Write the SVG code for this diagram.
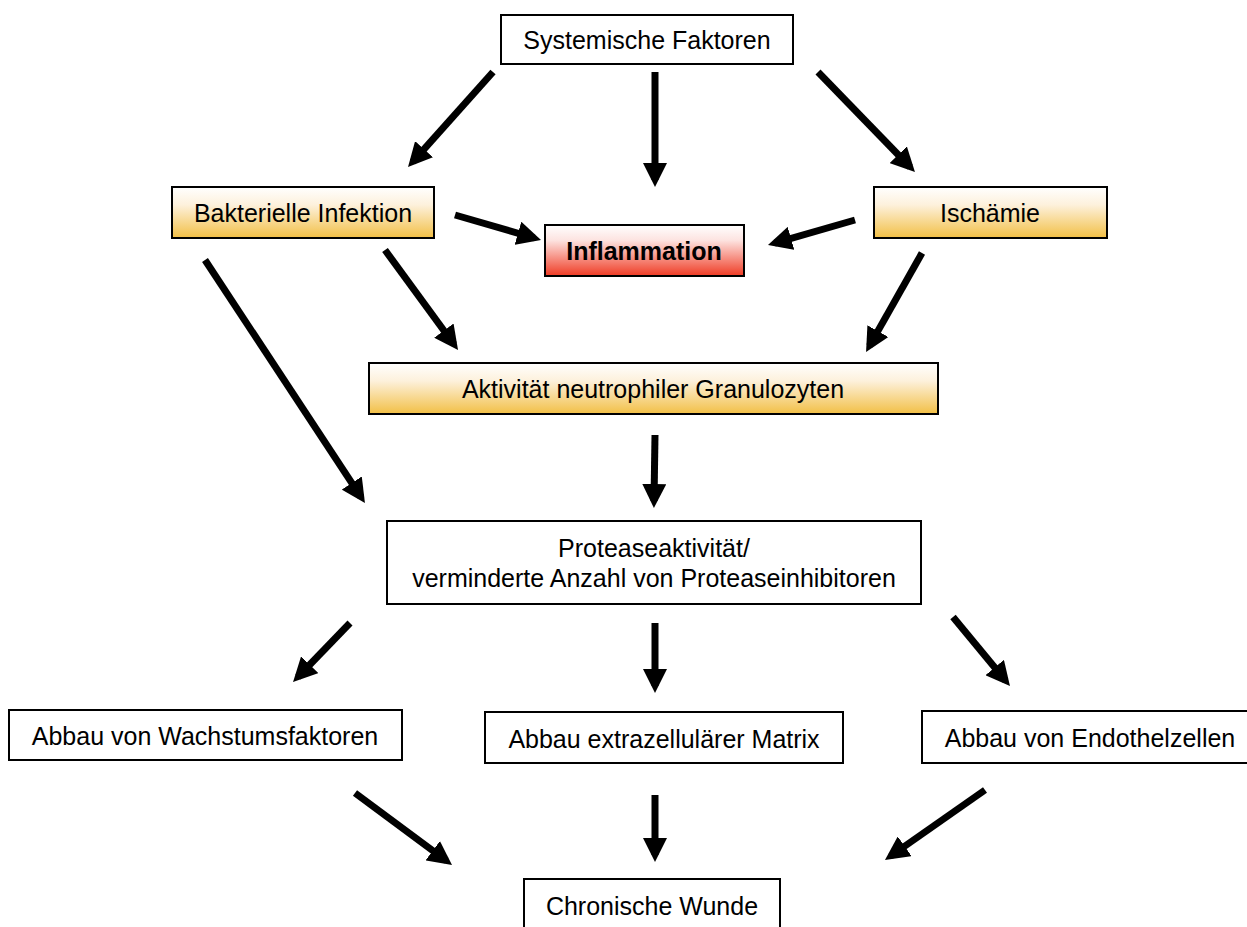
<svg xmlns="http://www.w3.org/2000/svg" width="1247" height="927" viewBox="0 0 1247 927">
<style>
.box{stroke:#000;stroke-width:2}
.w{fill:#fff}
.o{fill:url(#og)}
.r{fill:url(#rg)}
text{font-family:"Liberation Sans",Arial,sans-serif;font-size:25px;fill:#000;text-anchor:middle}
.b{font-weight:bold}
.c line{stroke:#000;stroke-width:7;marker-end:url(#ah)}
</style>
<defs>
<linearGradient id="og" x1="0" y1="0" x2="0" y2="1">
<stop offset="0" stop-color="#ffffff"/><stop offset="0.35" stop-color="#fdf1dc"/><stop offset="1" stop-color="#f2bf45"/>
</linearGradient>
<linearGradient id="rg" x1="0" y1="0" x2="0" y2="1">
<stop offset="0" stop-color="#ffffff"/><stop offset="0.3" stop-color="#fde3e0"/><stop offset="1" stop-color="#ef3b24"/>
</linearGradient>
<marker id="ah" markerUnits="userSpaceOnUse" markerWidth="24" markerHeight="24" refX="17" refY="12" orient="auto">
<path d="M0,0 L24,12 L0,24 z" fill="#000"/>
</marker>
</defs>
<rect width="1247" height="927" fill="#fff"/>
<g class="c" id="connectors">
<line x1="493" y1="72" x2="412.7" y2="161.8"/>
<line x1="655" y1="72" x2="655" y2="180"/>
<line x1="818" y1="72" x2="910.1" y2="167"/>
<line x1="455" y1="215" x2="534.3" y2="238"/>
<line x1="855" y1="220" x2="774.7" y2="243.1"/>
<line x1="205" y1="260" x2="361.1" y2="497.2"/>
<line x1="385" y1="250" x2="453.9" y2="344.3"/>
<line x1="922" y1="253" x2="869.5" y2="345.9"/>
<line x1="655" y1="435" x2="654" y2="501"/>
<line x1="350" y1="623" x2="297.9" y2="677"/>
<line x1="655" y1="623" x2="655" y2="686"/>
<line x1="953" y1="617" x2="1005.5" y2="680.6"/>
<line x1="355" y1="793" x2="446.4" y2="860.8"/>
<line x1="655" y1="795" x2="655" y2="855"/>
<line x1="985" y1="790" x2="890.7" y2="856"/>
</g>
<g id="n-systemisch"><rect class="box w" x="501" y="15" width="292" height="49"/><text x="647" y="49">Systemische Faktoren</text></g>
<g id="n-bakterien"><rect class="box o" x="172" y="187" width="262" height="51"/><text x="303" y="222">Bakterielle Infektion</text></g>
<g id="n-inflammation"><rect class="box r" x="545" y="225" width="199" height="51"/><text class="b" x="644" y="260">Inflammation</text></g>
<g id="n-ischaemie"><rect class="box o" x="874" y="187" width="233" height="51"/><text x="990" y="222">Ischämie</text></g>
<g id="n-aktivitaet"><rect class="box o" x="369" y="363" width="569" height="51"/><text x="653" y="398">Aktivität neutrophiler Granulozyten</text></g>
<g id="n-protease"><rect class="box w" x="387" y="521" width="534" height="83"/><text x="654" y="557">Proteaseaktivität/</text><text x="654" y="587">verminderte Anzahl von Proteaseinhibitoren</text></g>
<g id="n-wachstum"><rect class="box w" x="9" y="710" width="393" height="50"/><text x="205" y="745">Abbau von Wachstumsfaktoren</text></g>
<g id="n-matrix"><rect class="box w" x="485" y="712" width="358" height="51"/><text x="664" y="748">Abbau extrazellulärer Matrix</text></g>
<g id="n-endothel"><rect class="box w" x="922" y="711" width="330" height="52"/><text x="1090" y="747">Abbau von Endothelzellen</text></g>
<g id="n-wunde"><rect class="box w" x="524" y="879" width="256" height="60"/><text x="652" y="915">Chronische Wunde</text></g>
</svg>
